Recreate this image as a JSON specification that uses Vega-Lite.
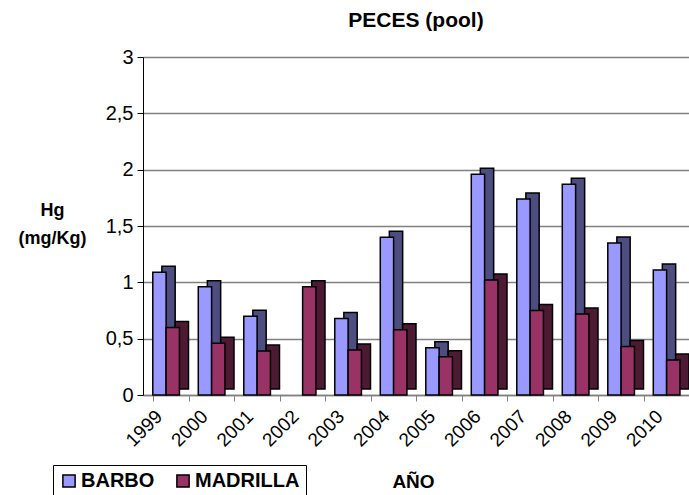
{
  "$schema": "https://vega.github.io/schema/vega-lite/v6.json",
  "width": 546,
  "height": 338,
  "autosize": {"type": "none"},
  "padding": {"left": 143, "top": 57, "right": 0, "bottom": 100},
  "background": "white",
  "config": {
    "view": {"stroke": null},
    "font": "Liberation Sans"
  },
  "title": {
    "text": "PECES (pool)",
    "fontSize": 21,
    "fontWeight": "bold",
    "font": "Liberation Sans",
    "color": "black",
    "anchor": "middle",
    "offset": 16
  },
  "data": {
    "values": [
      {"year": "1999", "serie": "BARBO", "hg": 1.09},
      {"year": "1999", "serie": "MADRILLA", "hg": 0.60},
      {"year": "2000", "serie": "BARBO", "hg": 0.96},
      {"year": "2000", "serie": "MADRILLA", "hg": 0.46},
      {"year": "2001", "serie": "BARBO", "hg": 0.70},
      {"year": "2001", "serie": "MADRILLA", "hg": 0.39},
      {"year": "2002", "serie": "MADRILLA", "hg": 0.96},
      {"year": "2003", "serie": "BARBO", "hg": 0.68},
      {"year": "2003", "serie": "MADRILLA", "hg": 0.40},
      {"year": "2004", "serie": "BARBO", "hg": 1.40},
      {"year": "2004", "serie": "MADRILLA", "hg": 0.58},
      {"year": "2005", "serie": "BARBO", "hg": 0.42},
      {"year": "2005", "serie": "MADRILLA", "hg": 0.34},
      {"year": "2006", "serie": "BARBO", "hg": 1.96},
      {"year": "2006", "serie": "MADRILLA", "hg": 1.02},
      {"year": "2007", "serie": "BARBO", "hg": 1.74},
      {"year": "2007", "serie": "MADRILLA", "hg": 0.75},
      {"year": "2008", "serie": "BARBO", "hg": 1.87},
      {"year": "2008", "serie": "MADRILLA", "hg": 0.72},
      {"year": "2009", "serie": "BARBO", "hg": 1.35},
      {"year": "2009", "serie": "MADRILLA", "hg": 0.43},
      {"year": "2010", "serie": "BARBO", "hg": 1.11},
      {"year": "2010", "serie": "MADRILLA", "hg": 0.31}
    ]
  },
  "encoding": {
    "x": {
      "field": "year",
      "type": "nominal",
      "scale": {"paddingInner": 0.215, "paddingOuter": 0.1075, "align": 1},
      "axis": {
        "title": "AÑO",
        "titleFontSize": 19,
        "titleFontWeight": "bold",
        "titleColor": "black",
        "titleX": 270,
        "titleY": 86,
        "titleBaseline": "middle",
        "titleAnchor": "middle",
        "labelAngle": -45,
        "labelAlign": "right",
        "labelBaseline": "middle",
        "labelOffset": -12,
        "labelFontSize": 19,
        "labelColor": "black",
        "labelPadding": 12,
        "domainColor": "#808080",
        "domainWidth": 1.5,
        "tickColor": "#808080",
        "tickBand": "extent",
        "tickSize": 6
      }
    },
    "y": {
      "field": "hg",
      "type": "quantitative",
      "scale": {"domain": [0, 3]},
      "axis": {
        "values": [0, 0.5, 1, 1.5, 2, 2.5, 3],
        "format": "~g",
        "labelExpr": "replace(datum.label, '.', ',')",
        "labelFontSize": 20,
        "labelColor": "black",
        "labelPadding": 4,
        "domainColor": "black",
        "tickColor": "black",
        "tickSize": 6,
        "gridColor": "#808080",
        "gridWidth": 1.5,
        "title": ["Hg", "(mg/Kg)"],
        "titleAngle": 0,
        "titleAlign": "center",
        "titleBaseline": "top",
        "titleX": -91,
        "titleY": 144,
        "titleFontSize": 18,
        "titleFontWeight": "bold",
        "titleColor": "black",
        "titleLineHeight": 28
      }
    }
  },
  "layer": [
    {
      "mark": {
        "type": "bar",
        "yOffset": -6,
        "y2Offset": -6,
        "stroke": "black",
        "strokeWidth": 1.5
      },
      "encoding": {
        "xOffset": {
          "field": "serie",
          "type": "nominal",
          "sort": ["BARBO", "MADRILLA"],
          "scale": {"paddingInner": 0, "paddingOuter": 0.34, "align": 1}
        },
        "fill": {
          "field": "serie",
          "type": "nominal",
          "scale": {"domain": ["BARBO", "MADRILLA"], "range": ["#4D4D80", "#4D1A33"]},
          "legend": null
        }
      }
    },
    {
      "mark": {"type": "bar", "stroke": "black", "strokeWidth": 1.5},
      "encoding": {
        "xOffset": {
          "field": "serie",
          "type": "nominal",
          "sort": ["BARBO", "MADRILLA"],
          "scale": {"paddingInner": 0, "paddingOuter": 0.34, "align": 0}
        },
        "color": {
          "field": "serie",
          "type": "nominal",
          "scale": {"domain": ["BARBO", "MADRILLA"], "range": ["#9999FF", "#993366"]},
          "legend": {
            "title": null,
            "orient": "none",
            "direction": "horizontal",
            "legendX": -90,
            "legendY": 408,
            "symbolType": "square",
            "symbolSize": 150,
            "symbolStrokeColor": "black",
            "symbolStrokeWidth": 1.5,
            "labelFontSize": 20,
            "labelFontWeight": "bold",
            "labelColor": "black",
            "labelOffset": 2,
            "columnPadding": 18,
            "strokeColor": "black",
            "padding": 6,
            "fillColor": "white"
          }
        }
      }
    }
  ],
  "resolve": {
    "scale": {"xOffset": "independent", "fill": "independent", "color": "independent"},
    "legend": {"fill": "independent", "color": "independent"}
  }
}
